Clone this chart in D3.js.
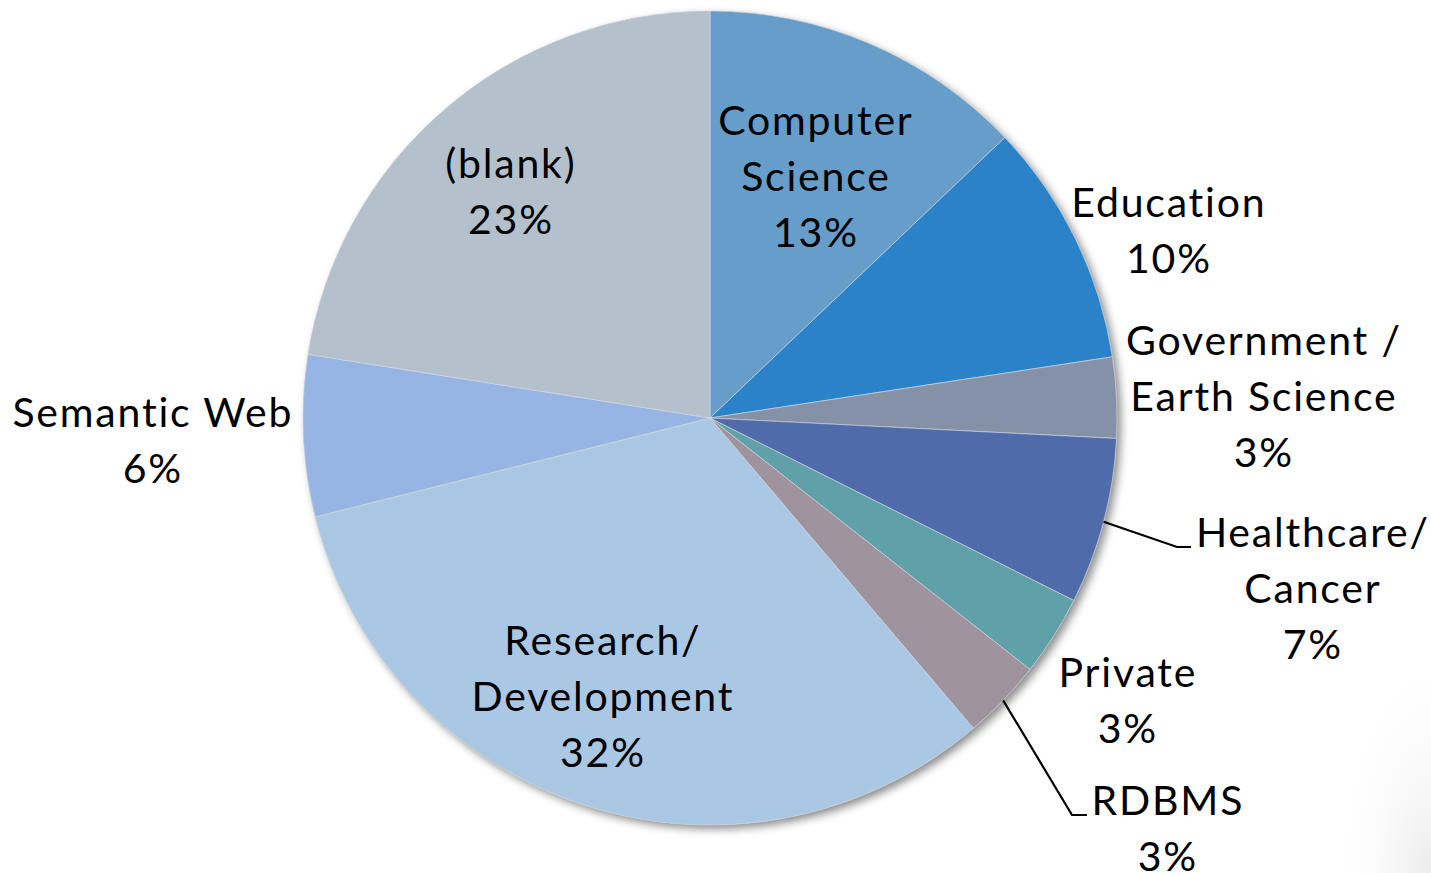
<!DOCTYPE html>
<html lang="en">
<head>
<meta charset="utf-8">
<title>Pie</title>
<script src="https://d3js.org/d3.v7.min.js"></script>
<style>
  html, body { margin: 0; padding: 0; background: #fff; }
  text { font-family: Lato, "Open Sans", sans-serif; fill: #000; }
</style>
</head>
<body>
<div id="chart"></div>
<script>
var width = 1431;
var height = 873;

// data (clockwise from 12 o'clock)
var categories = ["Computer Science", "Education", "Government / Earth Science", "Healthcare/ Cancer",
                  "Private", "RDBMS", "Research/ Development", "Semantic Web", "(blank)"];
var values = [12.9, 9.7, 3.2, 6.6, 3.2, 3.2, 32.3, 6.4, 22.5];
var colors = ["#679dc9", "#2a83c8", "#8591a7", "#4f6ba9", "#5fa0a9", "#9f939e", "#aac7e3", "#97b5e4", "#b5c0cd"];

// label lines as shown (how the names wrap)
var labelLines = [
    ["Computer", "Science"],
    ["Education"],
    ["Government /", "Earth Science"],
    ["Healthcare/", "Cancer"],
    ["Private"],
    ["RDBMS"],
    ["Research/", "Development"],
    ["Semantic Web"],
    ["(blank)"]
];

// layout: label anchor (center x, first baseline) and optional leader elbow
var labelPos = [
    {x: 815, y: 135},
    {x: 1168, y: 217},
    {x: 1263, y: 355},
    {x: 1312, y: 547, elbow: [1177, 1191]},
    {x: 1127, y: 687},
    {x: 1167, y: 815, elbow: [1072, 1087]},
    {x: 602, y: 655},
    {x: 152, y: 427},
    {x: 510, y: 178}
];

var cx = 710, cy = 418, r = 407;
var lineH = 56;
var spacing = 1.8;

var svg = d3.select("#chart").append("svg")
    .attr("width", width)
    .attr("height", height);

var defs = svg.append("defs");
var f = defs.append("filter").attr("id", "shadow")
    .attr("x", "-10%").attr("y", "-10%").attr("width", "120%").attr("height", "120%");
f.append("feDropShadow").attr("dx", 4).attr("dy", 4).attr("stdDeviation", 4)
    .attr("flood-color", "#000").attr("flood-opacity", 0.45);

// faint grey corner glow bottom-right
var grad = defs.append("radialGradient").attr("id", "corner")
    .attr("cx", "100%").attr("cy", "100%").attr("r", "100%");
grad.append("stop").attr("offset", "0%").attr("stop-color", "#ececec");
grad.append("stop").attr("offset", "100%").attr("stop-color", "#fff").attr("stop-opacity", 0);
svg.append("rect").attr("x", 1330).attr("y", 640).attr("width", 101).attr("height", 233)
    .attr("fill", "url(#corner)");

var g = svg.append("g").attr("transform", "translate(" + cx + "," + cy + ")");

var pie = d3.pie().sort(null).value(function(d) { return d; });
var arcs = pie(values);
var arc = d3.arc().innerRadius(0).outerRadius(r);

g.append("circle").attr("r", r).attr("fill", "#999").attr("filter", "url(#shadow)");

g.selectAll("path.slice")
    .data(arcs)
    .enter().append("path")
    .attr("class", "slice")
    .attr("d", arc)
    .attr("fill", function(d, i) { return colors[i]; })
    .attr("stroke", "#d8dde4")
    .attr("stroke-width", 0.6);

var total = d3.sum(values);

// leader lines
arcs.forEach(function(d, i) {
    var p = labelPos[i];
    if (!p.elbow) return;
    var a = (d.startAngle + d.endAngle) / 2;
    var sx = cx + r * Math.sin(a), sy = cy - r * Math.cos(a);
    svg.append("path")
        .attr("d", d3.line()([[sx, sy], [p.elbow[0], p.y], [p.elbow[1], p.y]]))
        .attr("fill", "none")
        .attr("stroke", "#000")
        .attr("stroke-width", 2.2);
});

// labels
arcs.forEach(function(d, i) {
    var p = labelPos[i];
    var lines = labelLines[i].concat([Math.round(values[i] / total * 100) + "%"]);
    var t = svg.append("text")
        .attr("text-anchor", "middle")
        .attr("font-size", 41)
        .attr("letter-spacing", spacing);
    lines.forEach(function(s, k) {
        t.append("tspan").attr("x", p.x + spacing / 2).attr("y", p.y + k * lineH).text(s);
    });
});
</script>
</body>
</html>
